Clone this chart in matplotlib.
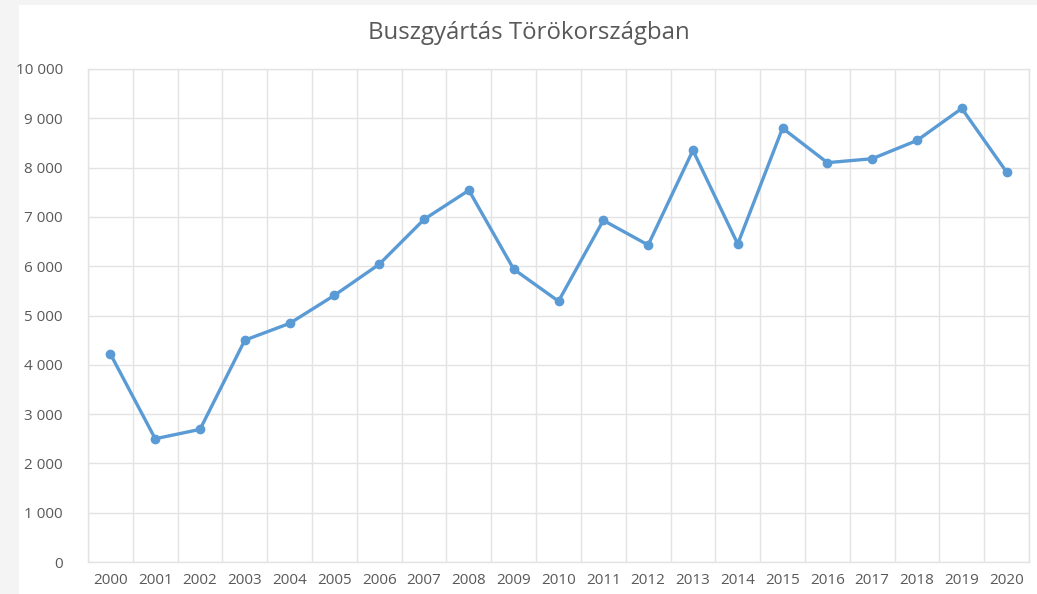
import matplotlib
matplotlib.use("Agg")
import matplotlib.pyplot as plt
from matplotlib.patches import Rectangle
from matplotlib.ticker import FuncFormatter

years = ["2000", "2001", "2002", "2003", "2004", "2005", "2006", "2007", "2008", "2009", "2010",
         "2011", "2012", "2013", "2014", "2015", "2016", "2017", "2018", "2019", "2020"]
production = [4220, 2500, 2690, 4500, 4840, 5410, 6040, 6950, 7540, 5940, 5290,
              6930, 6430, 8350, 6450, 8800, 8100, 8180, 8550, 9200, 7910]
title = "Buszgyártás Törökországban"

plt.rcParams['font.family'] = ['Open Sans', 'DejaVu Sans']
W, H = 1037, 594
fig = plt.figure(figsize=(W / 100, H / 100), dpi=100)
fig.patch.set_facecolor("#f4f4f4")
bg = Rectangle((19 / W, 0), 1 - 19 / W, 1 - 5 / H, transform=fig.transFigure,
               facecolor="white", edgecolor="none", zorder=-10)
fig.add_artist(bg)

left, right, top, bottom = 88, 1029, 69, 562
ax = fig.add_axes([left / W, 1 - bottom / H, (right - left) / W, (bottom - top) / H])
ax.set_zorder(1)
ax.set_facecolor("white")
x = list(range(len(years)))
ax.plot(x, production, color="#5B9BD5", lw=2.4, marker="o", ms=6, zorder=3,
        solid_joinstyle="round")
ax.set_xlim(-0.5, len(years) - 0.5)
ax.set_ylim(0, 10000)
ax.set_yticks(range(0, 10001, 1000))
ax.yaxis.set_major_formatter(FuncFormatter(lambda v, p: f"{int(v):,}".replace(",", " ")))
ax.set_xticks(x)
ax.set_xticklabels(years)
ax.set_xticks([i - 0.5 for i in range(len(years) + 1)], minor=True)
ax.grid(True, axis="y", which="major", color="#e3e3e3", lw=1)
ax.grid(True, axis="x", which="minor", color="#e3e3e3", lw=1)
ax.grid(False, axis="x", which="major")
for s in ax.spines.values():
    s.set_color("#e3e3e3")
    s.set_linewidth(1)
ax.tick_params(axis="both", which="both", length=0, colors="#595959", labelsize=11)
ax.tick_params(axis="y", pad=18)
ax.tick_params(axis="x", pad=8)
ax.set_axisbelow(True)
fig.text(529 / W, 1 - 33 / H, title, ha="center", va="center", fontsize=17.3, color="#595959")
fig.savefig("out.png", dpi=100)
